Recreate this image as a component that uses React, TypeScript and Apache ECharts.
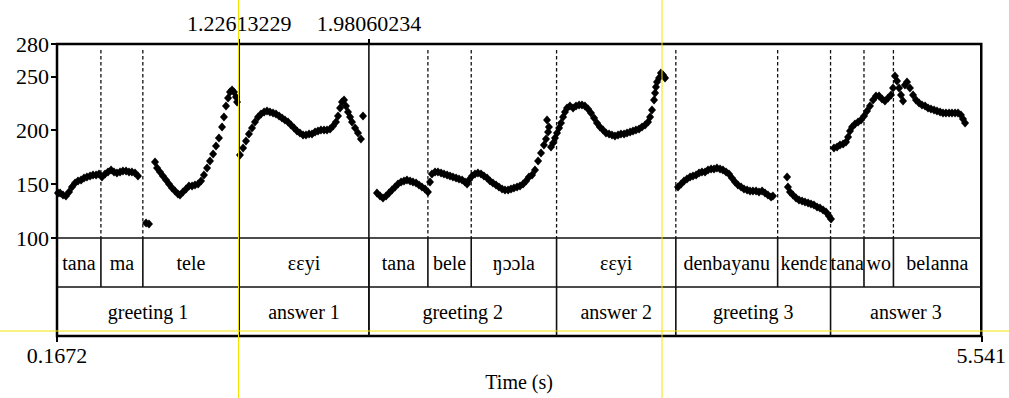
import React, { useEffect, useRef } from "react";
import * as echarts from "echarts";

// ---- axes ----
const T_MIN = 0.1672;
const T_MAX = 5.541;
const HZ_MIN = 100;
const HZ_MAX = 280;
const yTickValues = [100, 150, 200, 250, 280];
const topTickValues = [1.22613229, 1.98060234];
const topTickLabels = ["1.22613229", "1.98060234"];
const bottomTickValues = [0.1672, 5.541];
const bottomTickLabels = ["0.1672", "5.541"];

// ---- annotation tiers ----
const wordLabels = ["tana", "ma", "tele", "ɛɛyi", "tana", "bele", "ŋɔɔla", "ɛɛyi", "denbayanu", "kendɛ", "tana", "wo", "belanna"];
const wordBounds = [0.1672, 0.4225, 0.6663, 1.22613229, 1.98060234, 2.3237, 2.5756, 3.0718, 3.7652, 4.3572, 4.6648, 4.8592, 5.0304, 5.541];
const phraseLabels = ["greeting 1", "answer 1", "greeting 2", "answer 2", "greeting 3", "answer 3"];
const phraseBounds = [0.1672, 1.22613229, 1.98060234, 3.0718, 3.7652, 4.6648, 5.541];
const dashedBounds = [0.4225, 0.6663, 2.3237, 2.5756, 3.0718, 3.7652, 4.3572, 4.6648, 4.8592, 5.0304];
const solidBounds = [1.22613229, 1.98060234];

// ---- pitch (time s, Hz) ----
const pitchTanaMa = [
  [0.173, 141.8], [0.185, 141.8], [0.202, 139.9], [0.219, 139], [0.237, 142.7], [0.254, 147.3], [0.272, 151],
  [0.289, 152.9], [0.307, 153.8], [0.324, 155.7], [0.341, 156.6], [0.359, 157.5], [0.376, 158.5], [0.394, 158.5],
  [0.411, 159.4], [0.428, 156.6], [0.446, 159.4], [0.463, 161.2], [0.481, 163.1], [0.498, 161.2], [0.515, 160.3],
  [0.533, 161.2], [0.55, 162.2], [0.568, 162.2], [0.585, 161.2], [0.602, 161.2], [0.62, 160.3], [0.637, 157.5],
];
const pitchTele = [
  [0.684, 113.9], [0.701, 113],
  [0.736, 170.5], [0.748, 164.9], [0.765, 161.2], [0.782, 157.5], [0.8, 153.8], [0.817, 150.1], [0.835, 146.4],
  [0.852, 143.6], [0.869, 140.8], [0.881, 139.9], [0.898, 142.7], [0.916, 145.5], [0.933, 148.2], [0.951, 148.2],
  [0.968, 149.2], [0.986, 150.1], [1.003, 152.9], [1.02, 158.5], [1.038, 164.9], [1.055, 171.4], [1.073, 177.9],
  [1.09, 185.4], [1.107, 192.8], [1.125, 203], [1.136, 212.3], [1.148, 222.5], [1.16, 229.9], [1.171, 235.5],
  [1.183, 237.3], [1.194, 235.5], [1.206, 230.8], [1.212, 226.2],
];
const pitchAnswer1 = [
  [1.229, 177], [1.247, 183.5], [1.264, 190], [1.281, 196.5], [1.299, 202.1], [1.316, 207.6], [1.334, 212.3],
  [1.351, 215.1], [1.369, 216.9], [1.386, 217.8], [1.403, 216.9], [1.421, 216], [1.438, 215.1], [1.456, 213.2],
  [1.473, 211.3], [1.49, 209.5], [1.508, 207.6], [1.525, 204.8], [1.543, 202.1], [1.56, 199.3], [1.577, 197.4],
  [1.595, 195.6], [1.612, 195.6], [1.63, 196.5], [1.647, 196.5], [1.665, 198.4], [1.682, 199.3], [1.699, 200.2],
  [1.717, 200.2], [1.734, 200.2], [1.752, 201.1], [1.769, 203.9], [1.786, 207.6], [1.798, 213.2], [1.81, 220.6],
  [1.821, 226.2], [1.833, 228], [1.844, 222.5], [1.856, 216.9], [1.868, 212.3], [1.879, 207.6], [1.897, 202.1],
  [1.914, 197.4], [1.931, 191.9], [1.943, 213.2],
];
const pitchGreeting2 = [
  [2.024, 141.8], [2.042, 139], [2.059, 137.1], [2.077, 139], [2.094, 141.8], [2.111, 144.5], [2.129, 147.3],
  [2.146, 150.1], [2.164, 152], [2.181, 152.9], [2.198, 153.8], [2.216, 152.9], [2.233, 152], [2.251, 151],
  [2.268, 149.2], [2.285, 147.3], [2.303, 145.5], [2.32, 142.7], [2.332, 152],
  [2.343, 159.4], [2.361, 161.2], [2.378, 161.2], [2.396, 160.3], [2.413, 159.4], [2.431, 158.5], [2.448, 157.5],
  [2.465, 156.6], [2.483, 155.7], [2.5, 154.7], [2.518, 153.8], [2.535, 152], [2.547, 150.1], [2.558, 153.8],
  [2.576, 157.5], [2.593, 159.4], [2.61, 160.3], [2.628, 159.4], [2.645, 157.5], [2.663, 155.7], [2.68, 152.9],
  [2.697, 151], [2.715, 149.2], [2.732, 147.3], [2.75, 145.5], [2.767, 144.5], [2.785, 144.5], [2.802, 145.5],
  [2.819, 146.4], [2.837, 147.3], [2.854, 148.2], [2.872, 150.1], [2.889, 152.9], [2.906, 156.6], [2.924, 158.5],
  [2.941, 163.1], [2.959, 171.4], [2.976, 178.9], [2.993, 186.3], [3.005, 191.9],
  [3.011, 209.5], [3.017, 198.4], [3.022, 203],
];
const pitchAnswer2 = [
  [3.034, 184.4], [3.046, 188.1], [3.057, 192.8], [3.069, 197.4], [3.081, 202.1], [3.092, 206.7], [3.104, 212.3],
  [3.115, 216.9], [3.127, 220.6], [3.144, 222.5], [3.162, 220.6], [3.179, 222.5], [3.197, 223.4], [3.214, 223.4],
  [3.231, 222.5], [3.249, 219.7], [3.266, 216], [3.284, 211.3], [3.301, 206.7], [3.318, 203], [3.336, 200.2],
  [3.353, 197.4], [3.371, 196.5], [3.388, 195.6], [3.405, 194.6], [3.423, 195.6], [3.44, 196.5], [3.458, 196.5],
  [3.475, 197.4], [3.493, 198.4], [3.51, 199.3], [3.527, 200.2], [3.545, 201.1], [3.562, 203], [3.58, 204.8],
  [3.597, 207.6], [3.609, 212.3], [3.62, 218.8], [3.632, 228], [3.638, 234.5], [3.643, 240.1], [3.649, 244.7],
  [3.661, 248.5], [3.672, 253.1], [3.684, 251.2], [3.696, 248.5],
];
const pitchGreeting3 = [
  [3.771, 147.3], [3.789, 150.1], [3.806, 152.9], [3.823, 154.7], [3.841, 156.6], [3.858, 157.5], [3.876, 158.5],
  [3.893, 160.3], [3.91, 161.2], [3.928, 161.2], [3.945, 163.1], [3.963, 164], [3.98, 164], [3.997, 164.9],
  [4.015, 164], [4.032, 163.1], [4.05, 161.2], [4.067, 159.4], [4.084, 155.7], [4.102, 152], [4.119, 149.2],
  [4.137, 147.3], [4.154, 145.5], [4.172, 144.5], [4.189, 143.6], [4.206, 143.6], [4.224, 143.6], [4.241, 142.7],
  [4.259, 143.6], [4.276, 141.8], [4.293, 139.9], [4.311, 138], [4.322, 139],
  [4.404, 156.6], [4.409, 147.3],
  [4.421, 142.7], [4.438, 139.9], [4.456, 137.1], [4.473, 135.3], [4.491, 134.3], [4.508, 133.4], [4.526, 132.5],
  [4.543, 131.5], [4.56, 130.6], [4.578, 128.8], [4.595, 127.8], [4.613, 126], [4.63, 124.1], [4.647, 120.4],
  [4.659, 117.6],
];
const pitchAnswer3 = [
  [4.676, 183.5], [4.694, 184.4], [4.711, 186.3], [4.729, 187.2], [4.746, 189.1], [4.758, 193.7], [4.769, 199.3],
  [4.781, 203], [4.798, 205.8], [4.816, 207.6], [4.833, 209.5], [4.851, 213.2], [4.868, 217.8], [4.885, 222.5],
  [4.903, 228], [4.92, 231.8], [4.938, 231.8], [4.955, 229], [4.972, 227.1], [4.99, 229.9], [5.007, 232.7],
  [5.019, 239.2], [5.03, 250.3], [5.042, 245.7], [5.054, 239.2], [5.065, 232.7], [5.077, 227.1], [5.088, 242],
  [5.1, 244.7], [5.117, 239.2], [5.135, 232.7], [5.152, 228], [5.17, 225.3], [5.187, 223.4], [5.205, 222.5],
  [5.222, 220.6], [5.239, 219.7], [5.257, 218.8], [5.274, 217.8], [5.292, 216.9], [5.309, 216], [5.326, 216],
  [5.344, 216], [5.361, 216], [5.379, 216], [5.396, 216], [5.413, 214.1], [5.425, 210.4], [5.437, 206.7],
];

// ---- layout / style ----
const FONT = "'Liberation Serif', 'Times New Roman', 'DejaVu Serif', serif";
const LEFT = 57;
const TOP = 44;
const WIDTH = 926;
const PITCH_H = 194;
const TIER_H = 49;
const YELLOW = "#f2e200";

export default function App() {
  const ref = useRef<HTMLDivElement>(null);

  useEffect(() => {
    if (!ref.current) return;
    const chart = echarts.init(ref.current, null, { renderer: "svg" });

    const tierItems: { value: number[]; label: string }[] = [];
    wordLabels.forEach((l, i) => tierItems.push({ value: [wordBounds[i], wordBounds[i + 1], 0], label: l }));
    phraseLabels.forEach((l, i) => tierItems.push({ value: [phraseBounds[i], phraseBounds[i + 1], 1], label: l }));

    const boundaryItems = [
      ...dashedBounds.map((t) => [t, 0]),
      ...solidBounds.map((t) => [t, 1]),
    ];

    const allPitch = [
      ...pitchTanaMa, ...pitchTele, ...pitchAnswer1, ...pitchGreeting2,
      ...pitchAnswer2, ...pitchGreeting3, ...pitchAnswer3,
    ];

    const tierLine = { stroke: "#111", lineWidth: 1.6 };

    const option: any = {
      animation: false,
      backgroundColor: "#fff",
      grid: [
        { left: LEFT, top: TOP, width: WIDTH, height: PITCH_H, show: false },
        {
          left: LEFT, top: TOP, width: WIDTH, height: PITCH_H + 2 * TIER_H,
          show: true, borderColor: "#000", borderWidth: 2.5, backgroundColor: "transparent",
        },
      ],
      xAxis: [
        { gridIndex: 0, type: "value", min: T_MIN, max: T_MAX, show: false },
        {
          gridIndex: 1, type: "value", min: T_MIN, max: T_MAX, position: "bottom",
          axisLine: { show: false }, splitLine: { show: false },
          axisTick: { show: true, customValues: bottomTickValues, length: 6, lineStyle: { color: "#000", width: 2 } },
          axisLabel: {
            customValues: bottomTickValues,
            formatter: (v: number) => bottomTickLabels[bottomTickValues.indexOf(v)] ?? "",
            fontSize: 22, fontFamily: FONT, color: "#000", margin: 8,
          },
          name: "Time (s)", nameLocation: "middle", nameGap: 36,
          nameTextStyle: { fontSize: 20, fontFamily: FONT, color: "#000" },
        },
        {
          gridIndex: 1, type: "value", min: T_MIN, max: T_MAX, position: "top",
          axisLine: { show: false }, splitLine: { show: false },
          axisTick: { show: true, customValues: topTickValues, length: 5, lineStyle: { color: "#000", width: 2 } },
          axisLabel: {
            customValues: topTickValues,
            formatter: (v: number) => topTickLabels[topTickValues.indexOf(v)] ?? "",
            fontSize: 22, fontFamily: FONT, color: "#000", margin: 10,
          },
        },
      ],
      yAxis: [
        {
          gridIndex: 0, type: "value", min: HZ_MIN, max: HZ_MAX,
          axisLine: { show: false }, splitLine: { show: false },
          axisTick: { show: true, customValues: yTickValues, length: 6, lineStyle: { color: "#000", width: 2 } },
          axisLabel: { customValues: yTickValues, fontSize: 22, fontFamily: FONT, color: "#000", margin: 8 },
        },
        { gridIndex: 1, type: "value", min: 0, max: 1, show: false },
      ],
      series: [
        {
          type: "custom",
          xAxisIndex: 1,
          yAxisIndex: 1,
          z: 2,
          data: tierItems.map((d) => d.value),
          renderItem: (params: any, api: any) => {
            const cs = params.coordSys;
            const s = api.value(0);
            const e = api.value(1);
            const tier = api.value(2);
            const x0 = api.coord([s, 0])[0];
            const x1 = api.coord([e, 0])[0];
            const top = cs.y + PITCH_H + tier * TIER_H;
            const bottom = top + TIER_H;
            const children: any[] = [
              { type: "line", shape: { x1: x0, y1: top, x2: x1, y2: top }, style: tierLine },
              {
                type: "text",
                x: (x0 + x1) / 2,
                y: (top + bottom) / 2,
                style: {
                  text: tierItems[params.dataIndex].label,
                  fontSize: 20, fontFamily: FONT, fill: "#000",
                  align: "center", verticalAlign: "middle",
                },
              },
            ];
            if (s > T_MIN) {
              children.push({ type: "line", shape: { x1: x0, y1: top, x2: x0, y2: bottom }, style: tierLine });
            }
            return { type: "group", children };
          },
        },
        {
          type: "custom",
          xAxisIndex: 1,
          yAxisIndex: 1,
          z: 2,
          data: boundaryItems,
          renderItem: (params: any, api: any) => {
            const cs = params.coordSys;
            const x = api.coord([api.value(0), 0])[0];
            const solid = api.value(1) === 1;
            if (solid) {
              return {
                type: "line",
                shape: { x1: x, y1: cs.y, x2: x, y2: cs.y + cs.height },
                style: { stroke: "#111", lineWidth: 1.6 },
              };
            }
            return {
              type: "line",
              shape: { x1: x, y1: cs.y + 6, x2: x, y2: cs.y + PITCH_H },
              style: { stroke: "#111", lineWidth: 1.3, lineDash: [3.5, 2.5] },
            };
          },
        },
        {
          type: "scatter",
          xAxisIndex: 0,
          yAxisIndex: 0,
          z: 5,
          symbol: "diamond",
          symbolSize: [8, 9],
          itemStyle: { color: "#000", opacity: 1 },
          data: allPitch,
        },
      ],
      graphic: [
        { type: "line", z: 100, shape: { x1: 238.5, y1: 0, x2: 238.5, y2: 398 }, style: { stroke: YELLOW, lineWidth: 1 } },
        { type: "line", z: 100, shape: { x1: 662, y1: 0, x2: 662, y2: 398 }, style: { stroke: YELLOW, lineWidth: 1 } },
        { type: "line", z: 100, shape: { x1: 0, y1: 331, x2: 1009, y2: 331 }, style: { stroke: YELLOW, lineWidth: 1 } },
      ],
    };

    chart.setOption(option);
    return () => chart.dispose();
  }, []);

  return (
    <div
      ref={ref}
      style={{ position: "fixed", left: 0, top: 0, width: 1009, height: 398, background: "#fff" }}
    />
  );
}
